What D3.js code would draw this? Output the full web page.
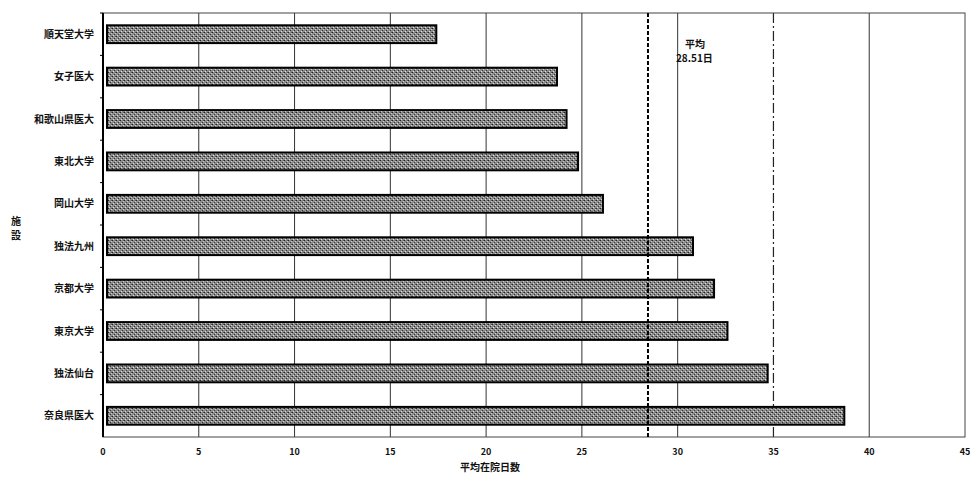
<!DOCTYPE html>
<html>
<head>
<meta charset="utf-8">
<script src="https://cdn.jsdelivr.net/npm/d3@7"></script>
<style>
  body { margin: 0; background: #fff; }
  text { font-family: "Noto Sans CJK JP", sans-serif; font-weight: 700; fill: #111; }
</style>
</head>
<body>
<svg id="chart" width="970" height="477"></svg>
<script>
// *************** DATA ***************
const facilities = ["順天堂大学", "女子医大", "和歌山県医大", "東北大学", "岡山大学",
                    "独法九州", "京都大学", "東京大学", "独法仙台", "奈良県医大"];
const avgDays = [17.4, 23.7, 24.2, 24.8, 26.1, 30.8, 31.9, 32.6, 34.7, 38.7];
const xTicks = [0, 5, 10, 15, 20, 25, 30, 35, 40, 45];
const meanValue = 28.45;
const meanLabel = ["平均", "28.51日"];

// *************** LAYOUT ***************
const margin = { top: 13, right: 5, bottom: 40, left: 103 },
      width = 970,
      height = 477;

const svg = d3.select("#chart");

const x = d3.scaleLinear()
            .domain([0, 45])
            .range([margin.left, width - margin.right]);

const y = d3.scaleBand()
            .domain(facilities)
            .range([margin.top, height - margin.bottom])
            .paddingInner(0.58)
            .paddingOuter(0.29);

// stipple pattern for the bars
const defs = svg.append("defs");
const pat = defs.append("pattern")
                .attr("id", "stipple")
                .attr("width", 4)
                .attr("height", 4)
                .attr("patternUnits", "userSpaceOnUse");
pat.append("rect").attr("width", 4).attr("height", 4).attr("fill", "#8c8c8c");
pat.append("rect").attr("x", 0).attr("y", 0).attr("width", 1).attr("height", 1).attr("fill", "#222");
pat.append("rect").attr("x", 2).attr("y", 2).attr("width", 1).attr("height", 1).attr("fill", "#333");
pat.append("rect").attr("x", 3).attr("y", 0).attr("width", 1).attr("height", 1).attr("fill", "#555");
pat.append("rect").attr("x", 1).attr("y", 3).attr("width", 1).attr("height", 1).attr("fill", "#e0e0e0");
pat.append("rect").attr("x", 3).attr("y", 1).attr("width", 1).attr("height", 1).attr("fill", "#d0d0d0");

// *************** GRID ***************
svg.append("g")
   .selectAll("line")
   .data(xTicks.filter(d => d > 0 && d !== 35 && d < 45))
   .join("line")
   .attr("x1", d => x(d))
   .attr("x2", d => x(d))
   .attr("y1", margin.top)
   .attr("y2", height - margin.bottom)
   .attr("stroke", "#333")
   .attr("stroke-width", 1);

// dash-dot line at 35
svg.append("line")
   .attr("x1", x(35)).attr("x2", x(35))
   .attr("y1", margin.top).attr("y2", height - margin.bottom)
   .attr("stroke", "#222")
   .attr("stroke-width", 1.2)
   .attr("stroke-dasharray", "10,3,2,3");

// frame
svg.append("rect")
   .attr("x", margin.left)
   .attr("y", margin.top)
   .attr("width", x(45) - margin.left)
   .attr("height", height - margin.bottom - margin.top)
   .attr("fill", "none")
   .attr("stroke", "#444")
   .attr("stroke-width", 1);

svg.append("line")
   .attr("x1", margin.left).attr("x2", margin.left)
   .attr("y1", margin.top).attr("y2", height - margin.bottom)
   .attr("stroke", "#000")
   .attr("stroke-width", 2);

// left axis small ticks
svg.append("g")
   .selectAll("line")
   .data(facilities)
   .join("line")
   .attr("x1", margin.left - 3)
   .attr("x2", margin.left)
   .attr("y1", d => y(d) - y.step() * y.paddingInner() / 2)
   .attr("y2", d => y(d) - y.step() * y.paddingInner() / 2)
   .attr("stroke", "#000");

// *************** BARS ***************
svg.append("g")
   .selectAll("rect")
   .data(facilities)
   .join("rect")
   .attr("x", x(0) + 4)
   .attr("y", d => y(d))
   .attr("width", (d, i) => x(avgDays[i]) - x(0) - 4)
   .attr("height", y.bandwidth())
   .attr("fill", "url(#stipple)")
   .attr("stroke", "#000")
   .attr("stroke-width", 2);

// mean line
svg.append("line")
   .attr("x1", x(meanValue)).attr("x2", x(meanValue))
   .attr("y1", margin.top).attr("y2", height - margin.bottom)
   .attr("stroke", "#000")
   .attr("stroke-width", 2)
   .attr("stroke-dasharray", "4,2");

svg.append("text")
   .attr("text-anchor", "start")
   .attr("font-size", 10)
   .selectAll("tspan")
   .data(meanLabel)
   .join("tspan")
   .attr("x", (d, i) => i === 0 ? x(meanValue) + 37 : x(meanValue) + 28)
   .attr("y", (d, i) => i === 0 ? 48 : 62)
   .text(d => d);

// *************** LABELS ***************
svg.append("g")
   .selectAll("text")
   .data(facilities)
   .join("text")
   .attr("x", margin.left - 9)
   .attr("y", d => y(d) + y.bandwidth() / 2)
   .attr("dy", "0.35em")
   .attr("text-anchor", "end")
   .attr("font-size", 10)
   .text(d => d);

svg.append("g")
   .selectAll("text")
   .data(xTicks)
   .join("text")
   .attr("x", d => x(d))
   .attr("y", height - margin.bottom + 18)
   .attr("text-anchor", "middle")
   .attr("font-size", 9)
   .attr("font-family", "Liberation Sans, sans-serif")
   .text(d => d);

svg.append("text")
   .attr("x", 490)
   .attr("y", 471)
   .attr("text-anchor", "middle")
   .attr("font-size", 10)
   .text("平均在院日数");

svg.append("text")
   .attr("x", 16)
   .attr("y", 225)
   .attr("text-anchor", "middle")
   .attr("font-size", 10)
   .selectAll("tspan")
   .data(["施", "設"])
   .join("tspan")
   .attr("x", 16)
   .attr("dy", (d, i) => i === 0 ? 0 : 14)
   .text(d => d);
</script>
</body>
</html>
